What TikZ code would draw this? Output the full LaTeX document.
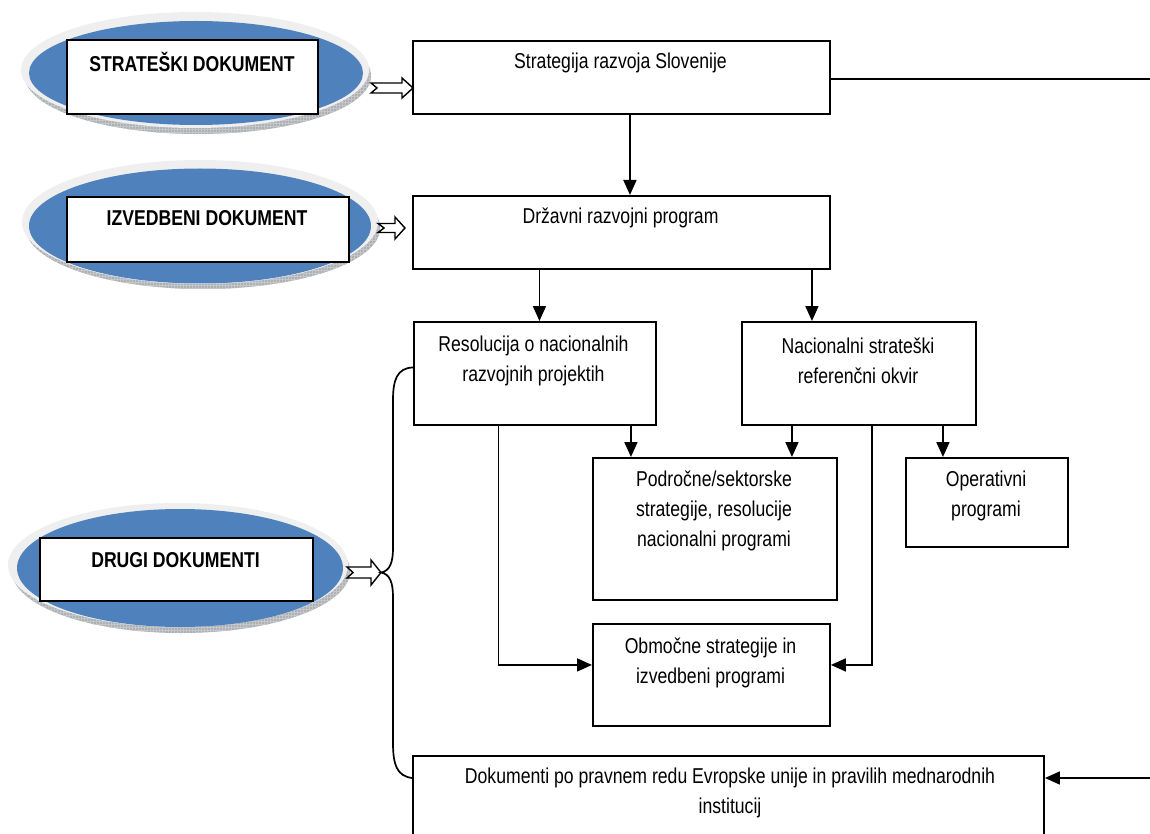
\documentclass[tikz,border=0pt]{standalone}
\usepackage{fontspec}
\setmainfont{Liberation Sans}[FakeStretch=0.82]
\usetikzlibrary{arrows.meta,patterns,calc,shapes.geometric}
\definecolor{ellblue}{HTML}{4F81BD}
\definecolor{ringgray}{HTML}{EFEFEF}
\definecolor{bandgray}{HTML}{A9B0B8}
\newcommand\harrow[5]{\draw[hollow] let \p1=(#1), \p2=(#2) in
  (\x1,\y2+#3) -- (\x2-#5,\y2+#3) -- (\x2-#5,\y2+#4) -- (\x2,\y2) --
  (\x2-#5,\y2-#4) -- (\x2-#5,\y2-#3) -- (\x1,\y2-#3) -- (\x1+6pt,\y2) -- cycle;}
\newcommand\discbase[6]{% cx cy rx ry : shadow + ring
  \fill[bandgray] (#1+3,#2+6) ellipse [x radius=#3pt, y radius=#4pt];
  \fill[pattern=grid, pattern color=gray!45] (#1+3,#2+6) ellipse [x radius=#3pt, y radius=#4pt];
  \fill[ringgray] (#1,#2) ellipse [x radius=#5pt, y radius=#6pt];}
\begin{document}
\begin{tikzpicture}[x=1pt,y=-1pt,
  box/.style={draw, line width=1.9pt, fill=white, anchor=north west, inner sep=0pt},
  txt/.style={font=\fontsize{21.5}{30}\selectfont, align=center, inner sep=0pt},
  lbl/.style={font=\fontsize{21.5}{30}\selectfont\bfseries, inner sep=0pt},
  disc/.style={ellipse, fill=ellblue, inner sep=0pt},
  conn/.style={line width=1.7pt, -{Triangle[length=15pt,width=13pt]}},
  plain/.style={line width=1.7pt},
  hollow/.style={draw, line width=1.4pt, fill=white, line join=miter},
]
\clip (0,0) rectangle (1150,834);
\fill[white] (0,0) rectangle (1150,834);

% ---- left discs ----
\discbase{195}{70}{173}{58}{174}{58}
\node[disc, minimum width=334pt, minimum height=104pt] (e1) at (196,73) {};
\node[box, minimum width=251pt, minimum height=74pt] (r1) at (66,39) {};
\node[lbl] (l1) at (192,62) {STRATEŠKI DOKUMENT};

\discbase{200}{222}{177}{61}{178}{62}
\node[disc, minimum width=342pt, minimum height=115pt] (e2) at (200,226) {};
\node[box, minimum width=282pt, minimum height=65pt] (r2) at (66,196) {};
\node[lbl] (l2) at (207,218) {IZVEDBENI DOKUMENT};

\discbase{178}{565}{169}{62}{170}{62}
\node[disc, minimum width=326pt, minimum height=118pt] (e3) at (180,568) {};
\node[box, minimum width=273pt, minimum height=63pt] (r3) at (39,537) {};
\node[lbl] (l3) at (175.5,560) {DRUGI DOKUMENTI};

% ---- boxes ----
\node[box, minimum width=417pt, minimum height=73pt] (b1) at (412,40) {};
\node[txt] (t1) at (620.5,63) {Strategija razvoja Slovenije};
\node[box, minimum width=417pt, minimum height=73pt] (b2) at (412,195) {};
\node[txt] (t2) at (620.5,218) {Državni razvojni program};
\node[box, minimum width=242pt, minimum height=103pt] (b3) at (413,321) {};
\node[txt] (t3) at (533.5,361) {Resolucija o nacionalnih\\razvojnih projektih};
\node[box, minimum width=234pt, minimum height=103pt] (b4) at (741,321) {};
\node[txt] (t4) at (858,361) {Nacionalni strateški\\referenčni okvir};
\node[box, minimum width=244pt, minimum height=142pt] (b5) at (592,457) {};
\node[txt] (t5) at (714,511) {Področne/sektorske\\strategije, resolucije\\nacionalni programi};
\node[box, minimum width=162pt, minimum height=89pt] (b6) at (905,457) {};
\node[txt] (t6) at (986,496) {Operativni\\programi};
\node[box, minimum width=237pt, minimum height=102pt] (b7) at (592,623) {};
\node[txt] (t7) at (710.5,662.5) {Območne strategije in\\izvedbeni programi};
\node[box, minimum width=631pt, minimum height=100pt] (b8) at (412,755) {};
\node[txt] (t8) at (730,792.5) {Dokumenti po pravnem redu Evropske unije in pravilih mednarodnih\\institucij};

% ---- hollow arrows ----
\coordinate (h1a) at (371,88);  \coordinate (h1b) at (413,88);
\coordinate (h2a) at (378,228); \coordinate (h2b) at (405,228);
\coordinate (h3a) at (347,572.5); \coordinate (h3b) at (381,572.5);
\harrow{h1a}{h1b}{5pt}{10pt}{11pt}
\harrow{h2a}{h2b}{4.5pt}{11pt}{10pt}
\harrow{h3a}{h3b}{5.5pt}{12.5pt}{10pt}

% ---- connectors ----
\draw[conn] ([xshift=8.5pt]b1.south) -- ([xshift=8.5pt]b2.north);
\draw[conn] ([xshift=4.5pt]b3.north |- b2.south) -- ([xshift=4.5pt]b3.north);
\draw[conn] ([xshift=-47pt]b4.north |- b2.south) -- ([xshift=-47pt]b4.north);
\draw[conn] ([xshift=-84pt]b5.north |- b3.south) -- ([xshift=-84pt]b5.north);
\draw[conn] ([xshift=77pt]b5.north |- b4.south) -- ([xshift=77pt]b5.north);
\draw[conn] ([xshift=-44pt]b6.north |- b4.south) -- ([xshift=-44pt]b6.north);
\draw[conn] ([xshift=-36.5pt]b3.south) |- ([yshift=10pt]b7.west);
\draw[conn] ([xshift=13pt]b4.south) |- ([yshift=10pt]b7.east);

\coordinate (rt) at (1151,79);
\coordinate (rb) at (1151,778);
\draw[plain] (rt -| b1.east) -- (rt);
\draw[conn] (rb) -- (rb -| b8.east);

% ---- brace ----
\coordinate (bt) at ([yshift=6pt]b3.west);
\coordinate (bb) at (rb -| b8.west);
\draw[plain] (bt) .. controls (397,368) and (393,380) .. (393,400)
  -- (393,548) .. controls (393,562) and (390,571) .. (h3b)
  .. controls (390,574) and (393,583) .. (393,597)
  -- (393,743) .. controls (393,765) and (397,776) .. (bb);
\end{tikzpicture}
\end{document}
